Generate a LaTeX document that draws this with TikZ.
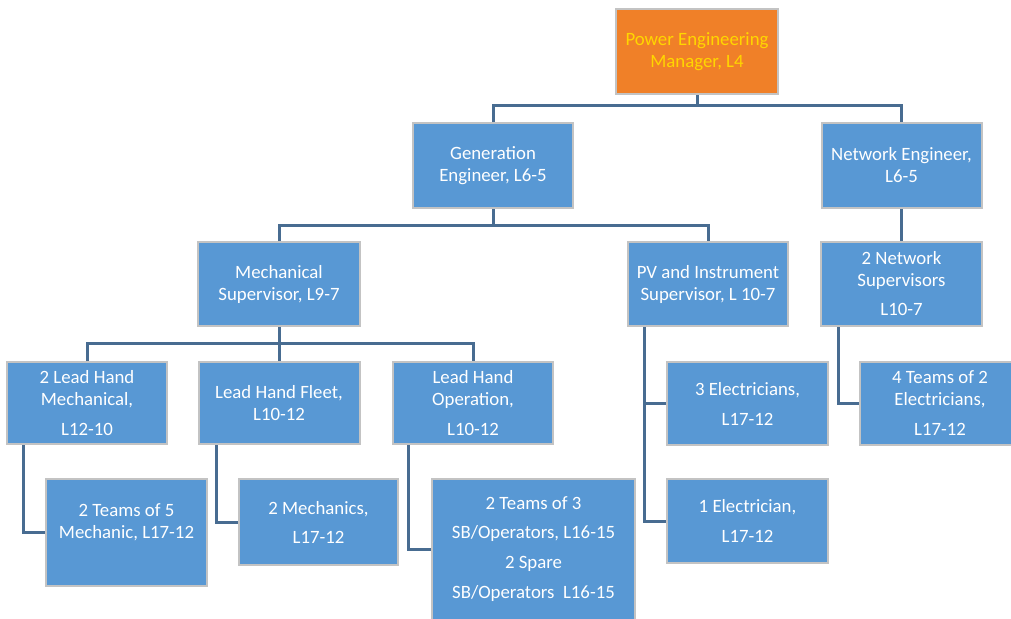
\documentclass[tikz,border=0pt]{standalone}
\usepackage{fontspec}
\setmainfont{Carlito}
\definecolor{boxblue}{RGB}{88,152,212}
\definecolor{boxorange}{RGB}{240,128,40}
\definecolor{txtyellow}{RGB}{255,214,0}
\definecolor{conncol}{RGB}{72,108,145}
\definecolor{edgegray}{RGB}{195,195,195}
\begin{document}
\begin{tikzpicture}[x=1pt,y=-1pt,
  box/.style={draw=edgegray, line width=2pt, fill=boxblue, text=white, align=center,
    inner sep=0pt, font=\fontsize{18.8}{22}\selectfont},
  topbox/.style={box, fill=boxorange, text=txtyellow},
  txt/.style={text=white, align=center, inner sep=0pt, font=\fontsize{18.8}{22}\selectfont},
  conn/.style={draw=conncol, line width=3pt}]
\clip (0,0) rectangle (1011,618);
\fill[white] (0,0) rectangle (1011,618);
% boxes
\node[topbox, minimum width=162pt, minimum height=85pt] (top) at (697,51.5) {Power Engineering\\Manager, L4};
\node[box, minimum width=160pt, minimum height=85pt] (gen) at (493,165.5) {Generation\\Engineer, L6-5};
\node[box, minimum width=160pt, minimum height=85pt] (net) at (901.5,165.5) {Network Engineer,\\L6-5};
\node[box, minimum width=162pt, minimum height=84pt] (mech) at (279,284) {Mechanical\\Supervisor, L9-7};
\node[box, minimum width=160pt, minimum height=84pt] (pv) at (708,284) {PV and Instrument\\Supervisor, L 10-7};
\node[box, minimum width=161pt, minimum height=84pt] (netsup) at (901.5,284) {2 Network\\Supervisors\\[7pt]L10-7};
\node[box, minimum width=160pt, minimum height=82pt] (lhm) at (87,403) {2 Lead Hand\\Mechanical,\\[8pt]L12-10};
\node[box, minimum width=161pt, minimum height=82pt] (lhf) at (279,403) {Lead Hand Fleet,\\L10-12};
\node[box, minimum width=160pt, minimum height=82pt] (lho) at (473,403) {Lead Hand\\Operation,\\[8pt]L10-12};
\node[box, minimum width=161pt, minimum height=107pt] (t5) at (126.5,532.5) {};
\node[txt] (t5txt) at ([yshift=10pt]t5.center) {2 Teams of 5\\Mechanic, L17-12};
\node[box, minimum width=159pt, minimum height=86pt] (mec) at (318.5,522) {2 Mechanics,\\[7pt]L17-12};
\node[box, minimum width=203pt, minimum height=141pt] (sb) at (533.5,549.5) {2 Teams of 3\\[7pt]SB/Operators, L16-15\\[8pt]2 Spare\\[8pt]SB/Operators\ \ L16-15};
\node[box, minimum width=161pt, minimum height=83pt] (e3) at (747.5,403.5) {3 Electricians,\\[8pt]L17-12};
\node[box, minimum width=161pt, minimum height=84pt] (e1) at (747.5,521) {1 Electrician,\\[8pt]L17-12};
\node[box, minimum width=160pt, minimum height=83pt] (t4) at (940,403.5) {4 Teams of 2\\Electricians,\\[8pt]L17-12};
% junctions
\coordinate (j1) at (697,105);
\coordinate (j2) at (493,225);
\coordinate (j3) at (279,343);
\coordinate (lhml) at ([xshift=-64pt]lhm.south);
\coordinate (lhfl) at ([xshift=-63pt]lhf.south);
\coordinate (lhol) at ([xshift=-65pt]lho.south);
\coordinate (pvl) at ([xshift=-64pt]pv.south);
\coordinate (nsl) at ([xshift=-63.5pt]netsup.south);
% connectors
\draw[conn] (top.south) -- (j1);
\draw[conn] (gen.north) |- (j1) -| (net.north);
\draw[conn] (gen.south) -- (j2);
\draw[conn] (mech.north) |- (j2) -| (pv.north);
\draw[conn] (net.south) -- (netsup.north);
\draw[conn] (mech.south) -- (j3);
\draw[conn] (lhm.north) |- (j3) -| (lho.north);
\draw[conn] (j3) -- (lhf.north);
\draw[conn] (lhml) |- (t5.west);
\draw[conn] (lhfl) |- (mec.west);
\draw[conn] (lhol) |- (sb.west);
\draw[conn] (pvl) |- (e1.west);
\draw[conn] (e3.west) -| (pvl);
\draw[conn] (nsl) |- (t4.west);
\end{tikzpicture}
\end{document}
